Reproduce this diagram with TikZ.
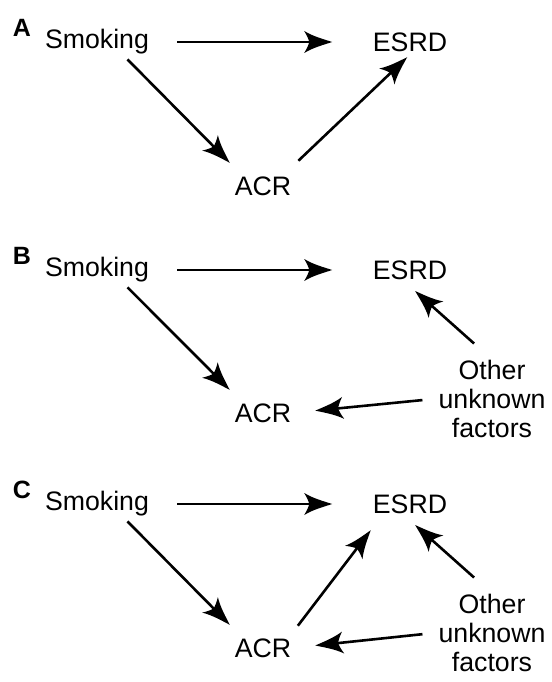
\documentclass[tikz,border=0pt]{standalone}
\usepackage{fontspec}
\setmainfont{Liberation Sans}
\usetikzlibrary{arrows.meta}

% arrow head with concave flanks and a notched back
\pgfdeclarearrow{
  name = jet,
  setup code = {
    \pgfarrowssettipend{0pt}
    \pgfarrowssetlineend{-21pt}
    \pgfarrowssetbackend{-28pt}
    \pgfarrowssetvisualbackend{-23pt}
    \pgfarrowshullpoint{0pt}{0pt}
    \pgfarrowshullpoint{-28pt}{11pt}
    \pgfarrowshullpoint{-28pt}{-11pt}
  },
  drawing code = {
    \pgfpathmoveto{\pgfqpoint{0pt}{0pt}}
    \pgfpathcurveto{\pgfqpoint{-8pt}{2.6pt}}{\pgfqpoint{-19pt}{5.5pt}}{\pgfqpoint{-28pt}{11pt}}
    \pgfpathcurveto{\pgfqpoint{-25pt}{6pt}}{\pgfqpoint{-23.5pt}{2.5pt}}{\pgfqpoint{-23pt}{0pt}}
    \pgfpathcurveto{\pgfqpoint{-23.5pt}{-2.5pt}}{\pgfqpoint{-25pt}{-6pt}}{\pgfqpoint{-28pt}{-11pt}}
    \pgfpathcurveto{\pgfqpoint{-19pt}{-5.5pt}}{\pgfqpoint{-8pt}{-2.6pt}}{\pgfqpoint{0pt}{0pt}}
    \pgfpathclose
    \pgfusepathqfill
  }
}

\begin{document}
\begin{tikzpicture}[x=1pt,y=-1pt,
  lbl/.style={font=\fontsize{26.7}{29}\selectfont, inner sep=0pt,
              text height=19pt, text depth=0pt},
  multi/.style={font=\fontsize{26.7}{29}\selectfont, inner sep=0pt,
                align=center, anchor=north},
  panel/.style={font=\fontsize{25}{25}\selectfont\bfseries, inner sep=0pt},
  arr/.style={-jet, line width=2.6pt}]

\fill[white] (0,0) rectangle (551,682);

% ---------- panel A ----------
\node[panel] (pA) at (22,28) {A};
\node[lbl] (s1) at (97,39) {Smoking};
\node[lbl] (e1) at (410,42) {ESRD};
\node[lbl] (a1) at (263,186) {ACR};

\draw[arr, shorten <=28pt, shorten >=40.5pt] (s1.east |- e1.west) -- (e1.west);
\draw[arr, shorten <=15pt, shorten >=19pt] (s1.-26.6) -- (a1.154);
\draw[arr, shorten <=22.6pt, shorten >=8pt] (a1.27) -- (e1.-73.6);

% ---------- panel B ----------
\node[panel] (pB) at (22,256) {B};
\node[lbl] (s2) at (97,267) {Smoking};
\node[lbl] (e2) at (410,270) {ESRD};
\node[lbl] (a2) at (263,413) {ACR};
\node[multi] (o2) at (492,359.5) {Other\\unknown\\factors};

\draw[arr, shorten <=28pt, shorten >=40.5pt] (s2.east |- e2.west) -- (e2.west);
\draw[arr, shorten <=15pt, shorten >=19pt] (s2.-26.6) -- (a2.154);
\draw[arr, shorten <=24pt, shorten >=17pt] (o2.north) -- (e2.-128.7);
\draw[arr, shorten <=16pt, shorten >=24pt] (o2.west) -- (a2.east);

% ---------- panel C ----------
\node[panel] (pC) at (22,490) {C};
\node[lbl] (s3) at (97,501) {Smoking};
\node[lbl] (e3) at (410,504) {ESRD};
\node[lbl] (a3) at (263,648) {ACR};
\node[multi] (o3) at (492,593.5) {Other\\unknown\\factors};

\draw[arr, shorten <=28pt, shorten >=40.5pt] (s3.east |- e3.west) -- (e3.west);
\draw[arr, shorten <=15pt, shorten >=19pt] (s3.-26.6) -- (a3.154);
\draw[arr, shorten <=15.8pt, shorten >=20.8pt] (a3.21.3) -- (e3.-160.8);
\draw[arr, shorten <=24pt, shorten >=17pt] (o3.north) -- (e3.-128.7);
\draw[arr, shorten <=16pt, shorten >=24pt] (o3.west) -- (a3.east);

\end{tikzpicture}
\end{document}
